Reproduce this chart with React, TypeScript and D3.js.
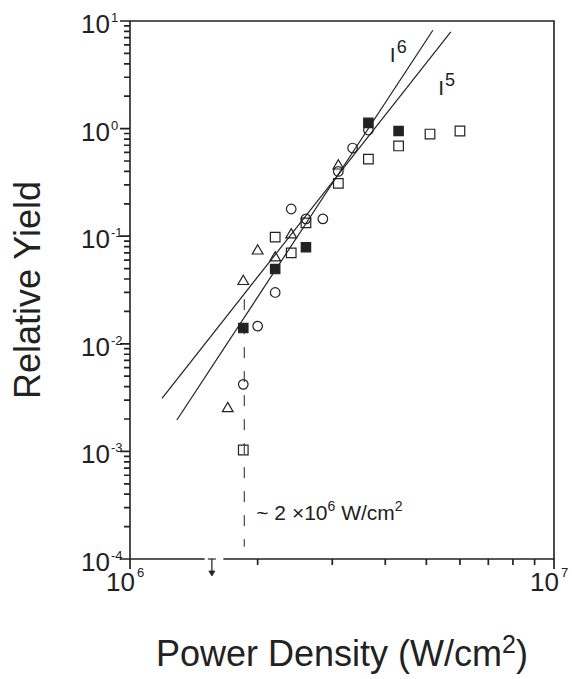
import * as d3 from 'd3';
import React, { useRef, useEffect } from 'react';

const width = 572;
const height = 679;
const plot = { left: 130, right: 554, top: 21, bottom: 559 };
const ink = "#222";
const font = "'Liberation Sans', Arial, Helvetica, sans-serif";

// power density (W/cm^2), relative yield
const filledSquares: [number, number][] = [
  [1.85e6, 0.0140], [2.2e6, 0.0495], [2.6e6, 0.079], [3.65e6, 1.13], [4.3e6, 0.95]
];
const openSquares: [number, number][] = [
  [1.85e6, 0.00103], [2.2e6, 0.098], [2.4e6, 0.070], [2.6e6, 0.133], [3.1e6, 0.31],
  [3.65e6, 0.52], [4.3e6, 0.69], [5.1e6, 0.89], [6.0e6, 0.95]
];
const openCircles: [number, number][] = [
  [1.85e6, 0.0042], [2.0e6, 0.0146], [2.2e6, 0.030], [2.4e6, 0.179], [2.6e6, 0.145],
  [2.85e6, 0.145], [3.1e6, 0.40], [3.35e6, 0.66], [3.65e6, 0.97]
];
const openTriangles: [number, number][] = [
  [1.7e6, 0.0025], [1.85e6, 0.038], [2.0e6, 0.073], [2.2e6, 0.063], [2.4e6, 0.103], [3.1e6, 0.45]
];

// fitted power laws: log10(y) = logA + power * log10(x / 1e6)
const fitLines = [
  { power: 6, logA: -3.372, from: 1.29e6, to: 5.18e6, labelX: 4.1e6, labelY: 4.16 },
  { power: 5, logA: -2.884, from: 1.19e6, to: 5.71e6, labelX: 5.33e6, labelY: 2.05 }
];

const thresholdX = 1.86e6;
const thresholdSpan = [0.026, 1.3e-4];
const upperLimits = [1.56e6];
const axisGap = [1.5e6, 1.66e6];

const yMajors = [1e-4, 1e-3, 1e-2, 1e-1, 1, 10];
const yExponents = ["-4", "-3", "-2", "-1", "0", "1"];
const xMajors = [1e6, 1e7];
const xExponents = ["6", "7"];
const minorSteps = [2, 3, 4, 5, 6, 7, 8, 9];

const App = () => {
  const svgRef = useRef<SVGSVGElement>(null);

  useEffect(() => {
    const x = d3.scaleLog().domain([1e6, 1e7]).range([plot.left, plot.right]);
    const y = d3.scaleLog().domain([1e-4, 10]).range([plot.bottom, plot.top]);

    const svg = d3.select(svgRef.current);
    svg.selectAll("*").remove();

    const minorY: number[] = [];
    yMajors.slice(0, -1).forEach(m => minorSteps.forEach(k => minorY.push(m * k)));
    const minorX = minorSteps.map(k => xMajors[0] * k);

    // tick marks: left ticks point out, bottom ticks point down
    const tickPath = [
      ...minorY.map(v => `M${plot.left - 6},${y(v)}H${plot.left}`),
      ...yMajors.map(v => `M${plot.left - 10},${y(v)}H${plot.left}`),
      ...minorX.map(v => `M${x(v)},${plot.bottom}V${plot.bottom + 6}`),
      ...xMajors.map(v => `M${x(v)},${plot.bottom}V${plot.bottom + 10}`)
    ].join("");
    svg.append("path")
      .attr("d", tickPath)
      .attr("stroke", ink).attr("stroke-width", 1.7).attr("fill", "none");

    // frame, with the break in the bottom axis
    svg.append("path")
      .attr("d", d3.line()([
        [x(axisGap[0]), plot.bottom], [plot.left, plot.bottom], [plot.left, plot.top],
        [plot.right, plot.top], [plot.right, plot.bottom], [x(axisGap[1]), plot.bottom]
      ]))
      .attr("stroke", ink).attr("stroke-width", 1.6).attr("fill", "none");

    // upper limit marker below the axis
    upperLimits.forEach(v => {
      const g = svg.append("g").attr("stroke", ink).attr("stroke-width", 1.2);
      g.append("line").attr("x1", x(v) - 4).attr("x2", x(v) + 4).attr("y1", y(1e-4)).attr("y2", y(1e-4));
      g.append("line").attr("x1", x(v)).attr("x2", x(v)).attr("y1", y(1e-4)).attr("y2", y(1e-4) + 13);
      g.append("path")
        .attr("d", `M${x(v) - 3},${y(1e-4) + 12}L${x(v) + 3},${y(1e-4) + 12}L${x(v)},${y(1e-4) + 17}Z`)
        .attr("fill", ink).attr("stroke-width", 0.8);
    });

    // threshold line
    svg.append("line")
      .attr("x1", x(thresholdX)).attr("x2", x(thresholdX))
      .attr("y1", y(thresholdSpan[0])).attr("y2", y(thresholdSpan[1]))
      .attr("stroke", ink).attr("stroke-width", 1)
      .attr("stroke-dasharray", "11,13");

    const note = svg.append("text")
      .attr("x", x(thresholdX) + 12).attr("y", y(2.3e-4))
      .attr("font-family", font).attr("font-size", 21).attr("fill", ink);
    note.append("tspan").text("~ 2 \u00d710");
    note.append("tspan").attr("font-size", 14).attr("dy", -9).text("6");
    note.append("tspan").attr("dy", 9).text(" W/cm");
    note.append("tspan").attr("font-size", 14).attr("dy", -9).text("2");

    // fitted lines
    fitLines.forEach(f => {
      const fy = (v: number) => Math.pow(10, f.logA + f.power * Math.log10(v / 1e6));
      svg.append("path")
        .attr("d", d3.line()([[x(f.from), y(fy(f.from))], [x(f.to), y(fy(f.to))]]))
        .attr("stroke", ink).attr("stroke-width", 1.2).attr("fill", "none");
      const t = svg.append("text")
        .attr("x", x(f.labelX)).attr("y", y(f.labelY))
        .attr("font-family", font).attr("font-size", 21).attr("fill", ink);
      t.append("tspan").text("I");
      t.append("tspan").attr("font-size", 18).attr("dx", 1).attr("dy", -9).text(String(f.power));
    });

    // markers
    const drawSeries = (data: [number, number][], type: d3.SymbolType, size: number, filled: boolean) => {
      svg.append("g").selectAll("path")
        .data(data)
        .join("path")
        .attr("transform", d => `translate(${x(d[0])},${y(d[1])})`)
        .attr("d", d3.symbol().type(type).size(size)())
        .attr("fill", filled ? ink : "none")
        .attr("stroke", ink)
        .attr("stroke-width", 1.2);
    };
    drawSeries(openSquares, d3.symbolSquare, 92, false);
    drawSeries(filledSquares, d3.symbolSquare, 88, true);
    drawSeries(openCircles, d3.symbolCircle, 72, false);
    drawSeries(openTriangles, d3.symbolTriangle, 50, false);

    // tick labels
    yMajors.forEach((v, i) => {
      svg.append("text")
        .attr("x", plot.left - 20).attr("y", y(v) + 12)
        .attr("text-anchor", "end")
        .attr("font-family", font).attr("font-size", 26).attr("fill", ink)
        .text("10");
      svg.append("text")
        .attr("x", plot.left - 19).attr("y", y(v) + 1)
        .attr("font-family", font).attr("font-size", 13).attr("fill", ink)
        .text(yExponents[i]);
    });
    xMajors.forEach((v, i) => {
      svg.append("text")
        .attr("x", x(v) + 5).attr("y", plot.bottom + 32)
        .attr("text-anchor", "end")
        .attr("font-family", font).attr("font-size", 26).attr("fill", ink)
        .text("10");
      svg.append("text")
        .attr("x", x(v) + 7).attr("y", plot.bottom + 18)
        .attr("font-family", font).attr("font-size", 13).attr("fill", ink)
        .text(xExponents[i]);
    });

    // axis titles
    const xt = svg.append("text")
      .attr("x", (plot.left + plot.right) / 2).attr("y", 666)
      .attr("text-anchor", "middle")
      .attr("font-family", font).attr("font-size", 36).attr("fill", ink);
    xt.append("tspan").text("Power Density (W/cm");
    xt.append("tspan").attr("font-size", 25).attr("dy", -13).text("2");
    xt.append("tspan").attr("dy", 13).text(")");

    svg.append("text")
      .attr("transform", `translate(40,${(plot.top + plot.bottom) / 2}) rotate(-90)`)
      .attr("text-anchor", "middle")
      .attr("font-family", font).attr("font-size", 36).attr("fill", ink)
      .text("Relative Yield");
  }, []);

  return (
    <svg
      ref={svgRef}
      width={width}
      height={height}
      style={{ position: 'absolute', left: 0, top: 0, background: '#fff' }}
    />
  );
};

export default App;
